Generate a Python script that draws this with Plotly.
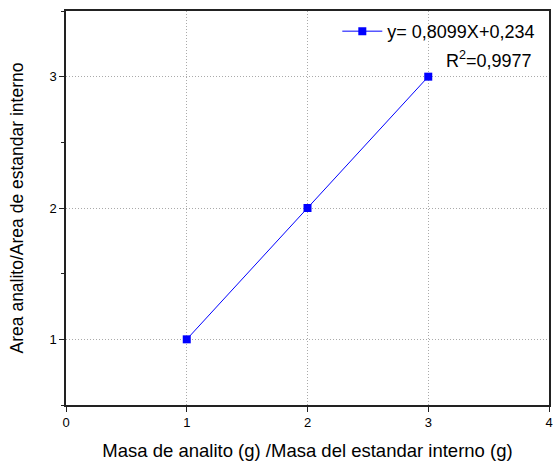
import plotly.graph_objects as go

x_vals = [1, 2, 3]
y_vals = [1, 2, 3]
series_name = "y= 0,8099X+0,234"
r2_text = "R<sup>2</sup>=0,9977"
x_ticks = [0, 1, 2, 3, 4]
y_ticks = [1, 2, 3]

fig = go.Figure()
fig.add_trace(go.Scatter(
    x=x_vals, y=y_vals, mode="lines+markers", name=series_name,
    line=dict(color="#0000FF", width=1),
    marker=dict(symbol="square", size=8, color="#0000FF"),
))

axis_common = dict(
    showline=True, linecolor="#222", linewidth=1.5, mirror=True,
    ticks="outside", ticklen=5, tickwidth=1.2, tickcolor="#222",
    showgrid=True, gridcolor="#aaa", griddash="1px,2px", gridwidth=1,
    zeroline=False, automargin=False,
    tickfont=dict(family="Arial, Liberation Sans", size=13, color="#000"),
)

fig.update_layout(
    width=553, height=463,
    margin=dict(l=66, r=4, t=11, b=58),
    paper_bgcolor="white", plot_bgcolor="white",
    font=dict(family="Arial, Liberation Sans", color="#000"),
    xaxis=dict(range=[0, 4], tickvals=x_ticks,
               title=dict(text="Masa de analito (g) /Masa del estandar interno (g)",
                          font=dict(size=18.5), standoff=15),
               **axis_common),
    yaxis=dict(range=[0.5, 3.5], tickvals=y_ticks,
               minor=dict(tickvals=[0.5, 1.5, 2.5, 3.5], ticks="outside", ticklen=3,
                          tickcolor="#222", showgrid=False),
               title=dict(text="Area analito/Area de estandar interno",
                          font=dict(size=17.5), standoff=21),
               **axis_common),
    showlegend=True,
    legend=dict(x=0.982, y=0.995, xanchor="right", yanchor="top",
                bgcolor="rgba(0,0,0,0)", font=dict(size=18), itemwidth=40,
                tracegroupgap=0),
)
fig.add_annotation(xref="paper", yref="paper", x=0.968, y=0.878, xanchor="right",
                   yanchor="middle", text=r2_text, showarrow=False, font=dict(size=18))

fig.write_html("out.html", config={"displayModeBar": False},
               post_script="document.body.style.margin='0';")
